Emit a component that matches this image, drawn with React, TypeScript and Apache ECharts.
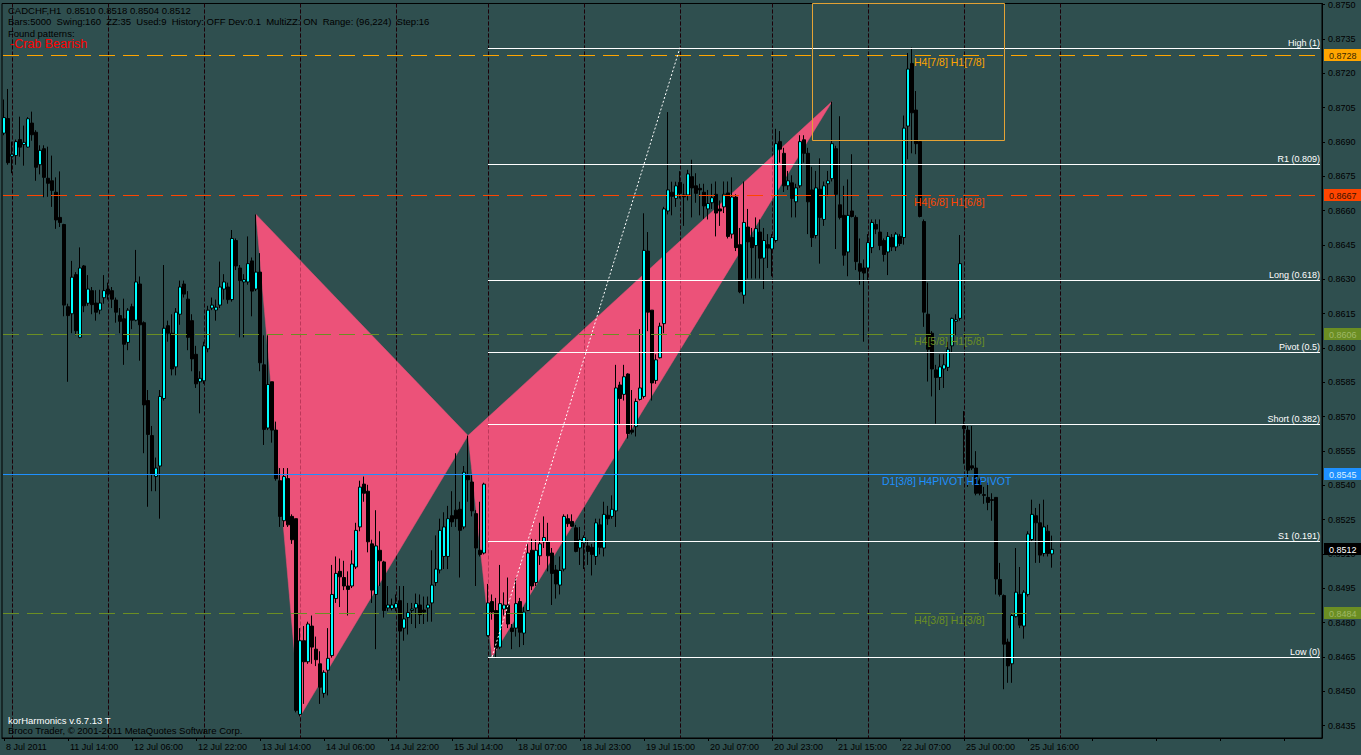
import React, { useEffect, useRef } from 'react';
import * as echarts from 'echarts';

const OPEN = [0.86938,0.87002,0.86837,0.86840,0.86910,0.86888,0.86877,0.86982,0.86942,0.86800,0.86870,0.86741,0.86730,0.86680,0.86570,0.86539,0.86180,0.86149,0.86320,0.86046,0.86358,0.86195,0.86250,0.86196,0.86165,0.86219,0.86257,0.86250,0.86209,0.86141,0.86127,0.86024,0.86180,0.86121,0.86279,0.86110,0.85770,0.85617,0.85438,0.85484,0.85779,0.86097,0.86064,0.85917,0.86147,0.86279,0.86213,0.86119,0.85972,0.85852,0.85856,0.85996,0.86174,0.86165,0.86187,0.86257,0.86266,0.86211,0.86469,0.86349,0.86288,0.86288,0.86380,0.86257,0.86331,0.85926,0.85650,0.85852,0.85641,0.85420,0.85245,0.85429,0.85264,0.85254,0.84399,0.84721,0.84629,0.84785,0.84684,0.84620,0.84491,0.84592,0.84656,0.84905,0.85024,0.84997,0.84960,0.84960,0.85043,0.85218,0.85405,0.85374,0.85144,0.84923,0.85116,0.85065,0.84864,0.84862,0.84864,0.84896,0.84776,0.84822,0.84853,0.84864,0.84877,0.84855,0.84864,0.84886,0.84975,0.85030,0.85089,0.85089,0.85267,0.85291,0.85295,0.85218,0.85442,0.85414,0.85276,0.85116,0.85104,0.84743,0.84892,0.84853,0.84693,0.84859,0.84877,0.84776,0.84776,0.84892,0.84754,0.84853,0.85116,0.84975,0.85092,0.85153,0.85153,0.85104,0.85030,0.84964,0.85034,0.85254,0.85242,0.85214,0.85126,0.85148,0.85135,0.85129,0.85089,0.85227,0.85126,0.85269,0.85264,0.85288,0.85838,0.85797,0.85886,0.85641,0.85656,0.85775,0.85788,0.86423,0.86165,0.85858,0.85957,0.86106,0.86598,0.86680,0.86653,0.86723,0.86668,0.86668,0.86748,0.86708,0.86697,0.86680,0.86607,0.86634,0.86671,0.86607,0.86616,0.86677,0.86497,0.86659,0.86451,0.86230,0.86528,0.86482,0.86447,0.86506,0.86392,0.86451,0.86432,0.86469,0.86901,0.86850,0.86708,0.86721,0.86638,0.86708,0.86909,0.86850,0.86690,0.86491,0.86693,0.86561,0.86717,0.86739,0.86870,0.86625,0.86579,0.86419,0.86598,0.86570,0.86368,0.86349,0.86349,0.86438,0.86539,0.86506,0.86469,0.86419,0.86482,0.86441,0.86487,0.86482,0.86969,0.87242,0.87039,0.86901,0.86552,0.86147,0.86064,0.85904,0.85871,0.85908,0.85915,0.86009,0.86116,0.86129,0.85659,0.85641,0.85485,0.85475,0.85420,0.85359,0.85347,0.85337,0.85347,0.84988,0.84918,0.84715,0.84620,0.84826,0.84923,0.84785,0.84923,0.85163,0.85267,0.85236,0.85102,0.85199,0.85100];
const HIGH = [0.87085,0.87131,0.86901,0.86910,0.87010,0.86971,0.87008,0.87032,0.86951,0.86885,0.86885,0.86879,0.86840,0.86745,0.86771,0.86542,0.86193,0.86380,0.86331,0.86439,0.86362,0.86318,0.86266,0.86252,0.86254,0.86318,0.86285,0.86266,0.86220,0.86174,0.86215,0.86174,0.86193,0.86428,0.86312,0.86116,0.85816,0.85659,0.85521,0.85816,0.86362,0.86119,0.86147,0.86174,0.86294,0.86294,0.86248,0.86147,0.86009,0.85898,0.86027,0.86184,0.86220,0.86211,0.86377,0.86322,0.86285,0.86515,0.86478,0.86362,0.86322,0.86487,0.86395,0.86583,0.86414,0.86055,0.86055,0.85852,0.85678,0.85475,0.85475,0.85475,0.85273,0.85254,0.84776,0.84785,0.84804,0.84831,0.84739,0.84675,0.84592,0.84776,0.85052,0.85089,0.85080,0.85070,0.85024,0.85116,0.85236,0.85420,0.85438,0.85402,0.85162,0.85291,0.85199,0.85070,0.84960,0.84905,0.84923,0.84960,0.84960,0.84886,0.84886,0.84927,0.84923,0.84914,0.84914,0.85116,0.85181,0.85254,0.85282,0.85310,0.85374,0.85540,0.85328,0.85484,0.85617,0.85448,0.85291,0.85328,0.85411,0.84969,0.84923,0.84908,0.85052,0.84932,0.84997,0.84794,0.84993,0.84908,0.84868,0.85144,0.85166,0.85162,0.85236,0.85264,0.85236,0.85126,0.85052,0.85089,0.85273,0.85273,0.85273,0.85227,0.85218,0.85181,0.85162,0.85144,0.85254,0.85254,0.85328,0.85310,0.85356,0.85926,0.85852,0.85926,0.85889,0.85816,0.85779,0.86082,0.86588,0.86506,0.86165,0.85972,0.86110,0.86616,0.87030,0.86726,0.86726,0.86772,0.86717,0.86778,0.86822,0.86763,0.86717,0.86717,0.86690,0.86717,0.86727,0.86644,0.86727,0.86727,0.86745,0.86671,0.86524,0.86727,0.86607,0.86524,0.86570,0.86561,0.86524,0.86497,0.86497,0.86957,0.86947,0.86874,0.86773,0.86754,0.86717,0.86929,0.86929,0.86874,0.86791,0.86773,0.86828,0.86727,0.86773,0.87076,0.86883,0.87012,0.86708,0.86736,0.86846,0.86579,0.86478,0.86386,0.86497,0.86561,0.86561,0.86561,0.86478,0.86506,0.86497,0.86506,0.86497,0.87015,0.87288,0.87312,0.87122,0.86901,0.86561,0.86285,0.86073,0.85926,0.85972,0.85972,0.86027,0.86132,0.86147,0.86493,0.85724,0.85659,0.85659,0.85549,0.85429,0.85393,0.85411,0.85365,0.85347,0.85061,0.84923,0.84730,0.84841,0.85126,0.85043,0.84942,0.85199,0.85337,0.85301,0.85319,0.85337,0.85227,0.85180];
const LOW = [0.86929,0.86800,0.86763,0.86800,0.86835,0.86796,0.86874,0.86905,0.86730,0.86758,0.86658,0.86660,0.86616,0.86520,0.86528,0.86138,0.85852,0.86064,0.86055,0.86042,0.86156,0.86184,0.86147,0.86119,0.86147,0.86193,0.86211,0.86174,0.86110,0.86064,0.85926,0.85990,0.86082,0.86116,0.85944,0.85540,0.85306,0.85374,0.85374,0.85254,0.85770,0.86027,0.85880,0.85880,0.86101,0.86220,0.85990,0.85898,0.85825,0.85714,0.85843,0.85981,0.86165,0.86119,0.86174,0.86211,0.86193,0.86202,0.86340,0.86046,0.86046,0.86276,0.86138,0.86248,0.85898,0.85576,0.85641,0.85586,0.85420,0.85218,0.85218,0.85218,0.85144,0.84408,0.84390,0.84445,0.84620,0.84620,0.84610,0.84445,0.84472,0.84482,0.84647,0.84886,0.84868,0.84942,0.84831,0.84951,0.85034,0.85199,0.85328,0.85107,0.84886,0.84684,0.84960,0.84822,0.84850,0.84853,0.84850,0.84546,0.84721,0.84748,0.84794,0.84776,0.84794,0.84794,0.84804,0.84804,0.84960,0.85015,0.85034,0.85034,0.85218,0.85218,0.84997,0.85208,0.85328,0.85264,0.84960,0.85089,0.85098,0.84739,0.84813,0.84645,0.84684,0.84831,0.84776,0.84684,0.84739,0.84693,0.84702,0.84850,0.84942,0.84960,0.85052,0.85126,0.85024,0.84877,0.84905,0.84923,0.85024,0.85218,0.85218,0.85107,0.85052,0.85034,0.85052,0.85006,0.85052,0.85098,0.85089,0.85227,0.85254,0.85218,0.85668,0.85770,0.85604,0.85622,0.85613,0.85770,0.85779,0.86073,0.85770,0.85843,0.85954,0.86064,0.86583,0.86579,0.86616,0.86653,0.86533,0.86644,0.86570,0.86634,0.86579,0.86564,0.86561,0.86607,0.86487,0.86533,0.86589,0.86478,0.86478,0.86423,0.86239,0.86193,0.86303,0.86303,0.86303,0.86303,0.86257,0.86349,0.86313,0.86460,0.86809,0.86681,0.86690,0.86570,0.86570,0.86699,0.86809,0.86497,0.86441,0.86478,0.86368,0.86533,0.86662,0.86727,0.86432,0.86561,0.86359,0.86313,0.86570,0.86340,0.86276,0.86027,0.86294,0.86414,0.86497,0.86427,0.86377,0.86318,0.86423,0.86423,0.86445,0.86451,0.86824,0.86850,0.86846,0.86570,0.86092,0.85853,0.85788,0.85669,0.85816,0.85825,0.85899,0.85981,0.86055,0.86119,0.85494,0.85393,0.85466,0.85356,0.85356,0.85319,0.85291,0.85245,0.84923,0.84914,0.84509,0.84537,0.84537,0.84822,0.84776,0.84730,0.84914,0.85153,0.85061,0.85061,0.85089,0.85089,0.85040];
const CLOSE = [0.87006,0.86809,0.86846,0.86901,0.86877,0.86898,0.87001,0.86931,0.86789,0.86863,0.86745,0.86719,0.86688,0.86559,0.86548,0.86187,0.86141,0.86309,0.86075,0.86349,0.86184,0.86257,0.86189,0.86156,0.86196,0.86250,0.86235,0.86213,0.86156,0.86116,0.86016,0.86165,0.86121,0.86288,0.86101,0.85751,0.85622,0.85448,0.85475,0.85788,0.86086,0.86064,0.85908,0.86156,0.86266,0.86235,0.86046,0.85952,0.85843,0.85867,0.86009,0.86165,0.86187,0.86178,0.86266,0.86288,0.86211,0.86478,0.86358,0.86294,0.86298,0.86368,0.86248,0.86331,0.85935,0.85644,0.85840,0.85641,0.85429,0.85264,0.85438,0.85227,0.85162,0.84417,0.84721,0.84629,0.84794,0.84693,0.84638,0.84518,0.84583,0.84644,0.84923,0.85015,0.85000,0.84960,0.84945,0.85056,0.85203,0.85392,0.85365,0.85153,0.84942,0.85135,0.85070,0.84853,0.84877,0.84877,0.84883,0.84763,0.84816,0.84844,0.84859,0.84883,0.84835,0.84846,0.84877,0.84964,0.85034,0.85203,0.85218,0.85254,0.85240,0.85254,0.85203,0.85457,0.85424,0.85288,0.85126,0.85098,0.85405,0.84886,0.84846,0.84688,0.84883,0.84877,0.84794,0.84761,0.84883,0.84758,0.84846,0.85104,0.84960,0.85116,0.85144,0.85172,0.85092,0.85015,0.84969,0.85028,0.85264,0.85232,0.85221,0.85111,0.85162,0.85172,0.85111,0.85098,0.85236,0.85129,0.85273,0.85254,0.85295,0.85825,0.85779,0.85874,0.85626,0.85632,0.85766,0.85825,0.86426,0.86156,0.85847,0.85948,0.86095,0.86607,0.86690,0.86662,0.86708,0.86675,0.86660,0.86760,0.86699,0.86675,0.86690,0.86620,0.86631,0.86656,0.86589,0.86598,0.86671,0.86487,0.86659,0.86438,0.86245,0.86548,0.86463,0.86438,0.86521,0.86392,0.86469,0.86436,0.86482,0.86892,0.86868,0.86708,0.86730,0.86653,0.86699,0.86901,0.86850,0.86638,0.86482,0.86699,0.86570,0.86708,0.86730,0.86892,0.86671,0.86570,0.86405,0.86579,0.86574,0.86377,0.86335,0.86327,0.86460,0.86548,0.86519,0.86447,0.86408,0.86487,0.86441,0.86497,0.86456,0.86960,0.87218,0.87027,0.86892,0.86574,0.86156,0.85994,0.85908,0.85871,0.85917,0.85926,0.85994,0.86129,0.86123,0.86368,0.85647,0.85466,0.85475,0.85365,0.85365,0.85356,0.85325,0.85334,0.84991,0.84923,0.84706,0.84611,0.84831,0.84933,0.84789,0.84933,0.85187,0.85273,0.85236,0.85095,0.85218,0.85102,0.85120];

const N_CATS = 330;
const TIME_LABELS = ['8 Jul 2011', '11 Jul 14:00', '12 Jul 06:00', '12 Jul 22:00', '13 Jul 14:00', '14 Jul 06:00', '14 Jul 22:00', '15 Jul 14:00', '18 Jul 07:00', '18 Jul 23:00', '19 Jul 15:00', '20 Jul 07:00', '20 Jul 23:00', '21 Jul 15:00', '22 Jul 07:00', '25 Jul 00:00', '25 Jul 16:00'];
const PRICE_TICKS = [0.8435, 0.8450, 0.8465, 0.8480, 0.8495, 0.8510, 0.8525, 0.8540, 0.8555, 0.8570, 0.8585, 0.8600, 0.8615, 0.8630, 0.8645, 0.8660, 0.8675, 0.8690, 0.8705, 0.8720, 0.8735, 0.8750];
const Y_MIN = 0.84296;
const Y_MAX = 0.875044;

const GRID_BARS = [2, 26, 50, 74, 98, 121, 145, 169, 192, 216, 240, 264];

const PATTERN_BARS = [63, 74, 116, 122, 207];
const PATTERN_PRICES = [0.86583, 0.84390, 0.85617, 0.84650, 0.87076];
const PATTERN_TRIANGLES = [[0, 1, 2], [2, 3, 4]];

const FIB_RATIOS = [1, 0.809, 0.618, 0.5, 0.382, 0.191, 0];
const FIB_NAMES = ['High (1)', 'R1 (0.809)', 'Long (0.618)', 'Pivot (0.5)', 'Short (0.382)', 'S1 (0.191)', 'Low (0)'];
const FIB_HIGH = 0.87312;
const FIB_LOW = 0.84650;
const FIB_START = 121;

const LEVEL_PRICES = [0.8728, 0.8667, 0.8606, 0.8545, 0.8484];
const LEVEL_COLORS = ['#FFA500', '#FF4500', '#6B8E23', '#1E90FF', '#6B8E23'];
const LEVEL_BOX_TEXT = ['#3a2800', '#3a1200', '#9fb866', '#dcefff', '#9fb866'];
const LEVEL_DASHED = [true, true, true, false, true];
const LEVEL_NOTES = ['H4[7/8] H1[7/8]', 'H4[6/8] H1[6/8]', 'H4[5/8] H1[5/8]', 'D1[3/8] H4PIVOT H1PIVOT', 'H4[3/8] H1[3/8]'];
const LEVEL_NOTE_BARS = [228, 228, 228, 220, 228];
const LAST_PRICE = 0.8512;

const PROJECTION = [122, 0.84650, 169, 0.87312];
const ZONE_BOX = [202, 250, 0.86908];

const FONT = '"Liberation Sans", Arial, sans-serif';

export default function App() {
  const ref = useRef<HTMLDivElement>(null);
  useEffect(() => {
    const chart = echarts.init(ref.current as HTMLDivElement, null, { renderer: 'svg' });
    const cats = Array.from({ length: N_CATS }, (_, i) => String(i));
    const candles = OPEN.map((o, i) => [o, CLOSE[i], LOW[i], HIGH[i]]);

    const vline = (color: string) => (params: any, api: any) => {
      const cs = params.coordSys;
      const x = Math.round(api.coord([api.value(0), 0.86])[0]) + 0.5;
      return {
        type: 'line',
        shape: { x1: x, y1: cs.y, x2: x, y2: cs.y + cs.height },
        style: { stroke: color, lineWidth: 1, lineDash: [4, 2] },
      };
    };

    const option: any = {
      animation: false,
      backgroundColor: '#2F4F4F',
      grid: { left: 2, top: 3, width: 1320, height: 735, show: true, borderColor: '#000', borderWidth: 1, backgroundColor: 'transparent' },
      xAxis: {
        type: 'category',
        data: cats,
        boundaryGap: true,
        axisLine: { show: true, lineStyle: { color: '#000', width: 1 } },
        axisTick: { show: true, interval: 15, length: 3, alignWithLabel: true, lineStyle: { color: '#000' } },
        axisLabel: {
          interval: 15,
          align: 'left',
          margin: 4,
          padding: [0, 0, 0, 2],
          color: '#000',
          fontSize: 9,
          fontFamily: FONT,
          formatter: (_v: string, idx: number) => (idx % 16 === 0 && TIME_LABELS[idx / 16]) ? TIME_LABELS[idx / 16] : '',
        },
        splitLine: { show: false },
      },
      yAxis: {
        type: 'value',
        position: 'right',
        min: Y_MIN,
        max: Y_MAX,
        axisLine: { show: true, lineStyle: { color: '#000', width: 1 } },
        axisTick: { show: true, length: 3, customValues: PRICE_TICKS, lineStyle: { color: '#000' } },
        axisLabel: {
          customValues: PRICE_TICKS,
          formatter: (v: number) => v.toFixed(4),
          color: '#000',
          fontSize: 9,
          fontFamily: FONT,
          margin: 6,
        },
        splitLine: { show: false },
      },
      series: [
        {
          type: 'custom', name: 'gridBelow', z: 1, silent: true,
          data: GRID_BARS.map((b) => [b, 0.86]),
          renderItem: vline('#000000'),
        },
        {
          type: 'custom', name: 'pattern', z: 2, silent: true,
          data: PATTERN_TRIANGLES.map((t) => t.flatMap((k) => [PATTERN_BARS[k], PATTERN_PRICES[k]])),
          renderItem: (params: any, api: any) => {
            const pts = [0, 1, 2].map((k) => api.coord([api.value(2 * k), api.value(2 * k + 1)]));
            return { type: 'polygon', shape: { points: pts }, style: { fill: '#EC5279', stroke: '#EC5279', lineWidth: 0.5 } };
          },
        },
        {
          type: 'custom', name: 'gridOver', z: 3, silent: true,
          data: GRID_BARS.map((b) => [b, 0.86]),
          renderItem: vline('rgba(90,0,25,0.32)'),
        },
        {
          type: 'candlestick', name: 'CADCHF,H1', z: 4, silent: true,
          data: candles,
          barWidth: 3,
          itemStyle: { color: '#00FFFF', color0: '#000000', borderColor: '#000000', borderColor0: '#000000', borderWidth: 1 },
        },
        {
          type: 'custom', name: 'levels', z: 5, silent: true,
          data: LEVEL_PRICES.map((p, k) => [LEVEL_NOTE_BARS[k], p, k]),
          renderItem: (params: any, api: any) => {
            const cs = params.coordSys;
            const k = api.value(2);
            const p = api.value(1);
            const c = LEVEL_COLORS[k];
            const y = Math.round(api.coord([0, p])[1]) + 0.5;
            const xR = cs.x + cs.width;
            const tx = api.coord([api.value(0), p])[0];
            return {
              type: 'group',
              children: [
                { type: 'line', shape: { x1: cs.x + 1, y1: y, x2: xR - 4, y2: y }, style: { stroke: c, lineWidth: 1, opacity: 1, lineDash: LEVEL_DASHED[k] ? [16, 8] : null } },
                { type: 'rect', shape: { x: xR + 2, y: y - 6.5, width: 40, height: 12 }, style: { fill: c } },
                { type: 'text', x: xR + 7, y: y, style: { text: p.toFixed(4), fill: LEVEL_BOX_TEXT[k], font: '9px ' + FONT, align: 'left', verticalAlign: 'middle' } },
                { type: 'text', x: tx - 2, y: y + 1, style: { text: LEVEL_NOTES[k], fill: c, font: '10.5px ' + FONT, align: 'left', verticalAlign: 'top' } },
              ],
            };
          },
        },
        {
          type: 'custom', name: 'fibo', z: 6, silent: true,
          data: FIB_RATIOS.map((r, k) => [FIB_START, FIB_LOW + r * (FIB_HIGH - FIB_LOW), k]),
          renderItem: (params: any, api: any) => {
            const cs = params.coordSys;
            const k = api.value(2);
            const pt = api.coord([api.value(0), api.value(1)]);
            const y = Math.round(pt[1]) + 0.5;
            const xR = cs.x + cs.width - 2;
            return {
              type: 'group',
              children: [
                { type: 'line', shape: { x1: pt[0], y1: y, x2: xR, y2: y }, style: { stroke: '#FFFFFF', lineWidth: 1 } },
                { type: 'text', x: xR, y: y - 1, style: { text: FIB_NAMES[k], fill: '#FFFFFF', font: '9px ' + FONT, align: 'right', verticalAlign: 'bottom' } },
              ],
            };
          },
        },
        {
          type: 'custom', name: 'projection', z: 6, silent: true,
          data: [PROJECTION],
          renderItem: (params: any, api: any) => {
            const a = api.coord([api.value(0), api.value(1)]);
            const b = api.coord([api.value(2), api.value(3)]);
            return { type: 'line', shape: { x1: a[0], y1: a[1], x2: b[0], y2: b[1] }, style: { stroke: '#FFFFFF', lineWidth: 1, lineDash: [2, 2] } };
          },
        },
        {
          type: 'custom', name: 'zone', z: 6, silent: true,
          data: [ZONE_BOX],
          renderItem: (params: any, api: any) => {
            const cs = params.coordSys;
            const a = api.coord([api.value(0), api.value(2)]);
            const b = api.coord([api.value(1), api.value(2)]);
            const x1 = Math.round(a[0]) + 0.5;
            const x2 = Math.round(b[0]) + 0.5;
            const yb = Math.round(a[1]) + 0.5;
            return { type: 'rect', shape: { x: x1, y: cs.y, width: x2 - x1, height: yb - cs.y }, style: { fill: 'none', stroke: '#E5A335', lineWidth: 1 } };
          },
        },
        {
          type: 'custom', name: 'last', z: 7, silent: true,
          data: [[0, LAST_PRICE]],
          renderItem: (params: any, api: any) => {
            const cs = params.coordSys;
            const y = Math.round(api.coord([0, api.value(1)])[1]) + 0.5;
            const xR = cs.x + cs.width;
            return {
              type: 'group',
              children: [
                { type: 'rect', shape: { x: xR + 2, y: y - 6.5, width: 40, height: 12 }, style: { fill: '#000000' } },
                { type: 'text', x: xR + 7, y: y, style: { text: api.value(1).toFixed(4), fill: '#FFFFFF', font: '9px ' + FONT, align: 'left', verticalAlign: 'middle' } },
              ],
            };
          },
        },
      ],
      graphic: [
        { type: 'text', x: 8, y: 10, z: 100, style: { text: 'CADCHF,H1  0.8510 0.8518 0.8504 0.8512', fill: '#000', font: '9.5px ' + FONT, verticalAlign: 'middle' } },
        { type: 'text', x: 8, y: 21, z: 100, style: { text: 'Bars:5000  Swing:160  ZZ:35  Used:9  History: OFF Dev:0.1  MultiZZ: ON  Range: (96,224)  Step:16', fill: '#000', font: '9.5px ' + FONT, verticalAlign: 'middle' } },
        { type: 'text', x: 8, y: 33, z: 100, style: { text: 'Found patterns:', fill: '#000', font: '9.5px ' + FONT, verticalAlign: 'middle' } },
        { type: 'text', x: 10, y: 44, z: 100, style: { text: '-Crab Bearish', fill: '#FF0000', font: '12.5px ' + FONT, verticalAlign: 'middle' } },
        { type: 'text', x: 8, y: 720, z: 100, style: { text: 'korHarmonics v.6.7.13 T', fill: '#FFFFFF', font: '9.5px ' + FONT, verticalAlign: 'middle' } },
        { type: 'text', x: 8, y: 730, z: 100, style: { text: 'Broco Trader, © 2001-2011 MetaQuotes Software Corp.', fill: '#000', font: '9.5px ' + FONT, verticalAlign: 'middle' } },
      ],
    };
    chart.setOption(option);
    return () => chart.dispose();
  }, []);
  return <div ref={ref} style={{ position: 'fixed', left: 0, top: 0, width: 1361, height: 755, background: '#2F4F4F' }} />;
}
